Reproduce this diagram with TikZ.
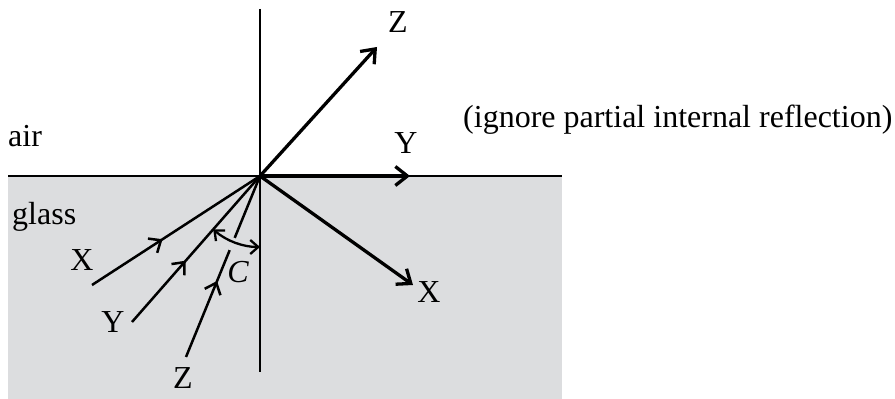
\documentclass[tikz,border=0pt]{standalone}
\usepackage{fontspec}
\setmainfont{Liberation Serif}
\usetikzlibrary{arrows.meta,decorations.markings,calc}
\definecolor{glassgrey}{RGB}{220,221,223}
\tikzset{
  ray/.style={line width=2.5pt,line cap=butt},
  outray/.style={line width=3.3pt,-{Straight Barb[length=12pt,width=19pt]}},
  inray/.style={ray,postaction={decorate},decoration={markings,
     mark=at position 0.42 with {\arrow[line width=2.5pt]{Straight Barb[length=10pt,width=17pt]}}}},
  lbl/.style={inner sep=0pt,font=\fontsize{32}{38}\selectfont},
  axis/.style={line width=2.3pt}
}
\begin{document}
\begin{tikzpicture}[x=1pt,y=1pt]
\useasboundingbox (0,0) rectangle (895,399);
% glass block
\fill[glassgrey] (8,0) rectangle (562,223);
% named points
\coordinate (O) at (260,223);
\coordinate (ntop) at (260,390);
\coordinate (nbot) at (260,27);
\coordinate (sl) at (8,223);
\coordinate (sr) at (562,223);
\coordinate (xin) at (92,114);
\coordinate (yin) at (132,77);
\coordinate (zin) at (186,42);
\coordinate (zout) at (377,352);
\coordinate (yout) at (410,223);
\coordinate (xout) at (413,114);
% normal and surface
\draw[axis] (ntop) -- (nbot);
\draw[axis] (sl) -- (sr);
% incident rays
\draw[inray] (xin) -- (O);
\draw[inray] (yin) -- (O);
\draw[inray] (zin) -- (O);
% gap in Z ray where the arc crosses
\draw[glassgrey,line width=5pt] ($(O)+(247.8:67pt)$) -- ($(O)+(247.8:80pt)$);
% angle C
\draw[line width=2.3pt,{Straight Barb[length=8pt,width=14pt]}-{Straight Barb[length=8pt,width=14pt]}]
  ($(O)+(228.8:71pt)$) arc[start angle=228.8,end angle=270,radius=71pt];
% outgoing rays
\draw[outray] (O) -- (zout);
\draw[outray] (O) -- (yout);
\draw[outray] (O) -- (xout);
% labels
\node[lbl] (lz) at (398,377) {Z};
\node[lbl] (ly) at (406,256) {Y};
\node[lbl] (lx) at (429,107) {X};
\node[lbl] (lxi) at (82,139) {X};
\node[lbl] (lyi) at (113,77) {Y};
\node[lbl] (lzi) at (183,21) {Z};
\node[lbl] (lc) at (238,127) {\itshape C};
\node[lbl,anchor=base west] (ign) at (463,271) {(ignore partial internal reflection)};
\node[lbl,anchor=base west] (air) at (8,252) {air};
\node[lbl,anchor=base west] (gl) at (12,174) {glass};
\end{tikzpicture}
\end{document}
